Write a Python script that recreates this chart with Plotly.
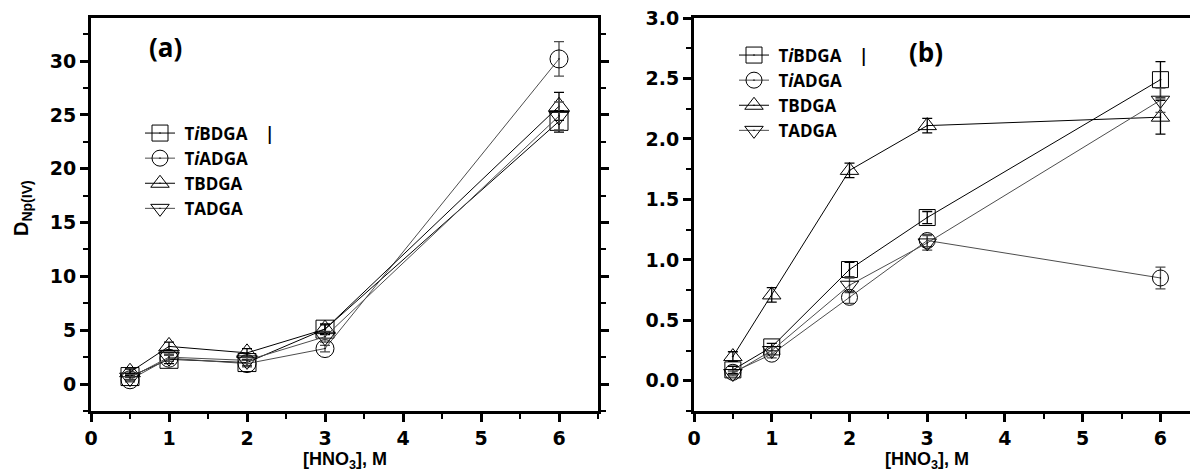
import plotly.graph_objects as go

hno3 = [0.5, 1, 2, 3, 6]
NB = "\u00a0"
series_names = [NB + "T<i>i</i>BDGA" + NB * 4 + "|", NB + "T<i>i</i>ADGA",
                NB + "TBDGA", NB + "TADGA"]

# Panel (a)
a_tibdga = [0.7, 2.3, 2.0, 5.1, 24.4]
a_tiadga = [0.4, 2.4, 1.9, 3.3, 30.2]
a_tbdga = [1.1, 3.5, 2.9, 5.1, 25.8]
a_tadga = [0.6, 2.5, 2.2, 4.4, 24.9]
a_err_tibdga = [0.3, 0.4, 0.3, 0.4, 1.0]
a_err_tiadga = [0.2, 0.3, 0.3, 0.3, 1.6]
a_err_tbdga = [0.3, 0.4, 0.4, 0.5, 1.3]
a_err_tadga = [0.3, 0.4, 0.3, 0.5, 1.3]

# Panel (b)
b_tibdga = [0.09, 0.28, 0.92, 1.35, 2.49]
b_tiadga = [0.07, 0.22, 0.69, 1.16, 0.85]
b_tbdga = [0.20, 0.71, 1.74, 2.11, 2.18]
b_tadga = [0.06, 0.25, 0.79, 1.14, 2.32]
b_err_tibdga = [0.03, 0.03, 0.06, 0.05, 0.15]
b_err_tiadga = [0.02, 0.03, 0.05, 0.05, 0.09]
b_err_tbdga = [0.04, 0.06, 0.06, 0.06, 0.14]
b_err_tadga = [0.02, 0.03, 0.06, 0.06, 0.10]

symbols = ["square-open-dot", "circle-open-dot", "triangle-up-open-dot", "triangle-down-open-dot"]
line_colors = ["#000000", "#4d4d4d", "#000000", "#4d4d4d"]

fig = go.Figure()

a_vals = [a_tibdga, a_tiadga, a_tbdga, a_tadga]
a_errs = [a_err_tibdga, a_err_tiadga, a_err_tbdga, a_err_tadga]
b_vals = [b_tibdga, b_tiadga, b_tbdga, b_tadga]
b_errs = [b_err_tibdga, b_err_tiadga, b_err_tbdga, b_err_tadga]

for i in range(4):
    fig.add_trace(go.Scatter(
        x=hno3, y=a_vals[i], name=series_names[i], mode="lines+markers",
        xaxis="x", yaxis="y", legend="legend",
        line=dict(color=line_colors[i], width=1),
        marker=dict(symbol=symbols[i], size=18, color="black", line=dict(width=1, color="black")),
        error_y=dict(type="data", array=a_errs[i], visible=True, color=line_colors[i], thickness=1.3, width=5),
    ))
for i in range(4):
    fig.add_trace(go.Scatter(
        x=hno3, y=b_vals[i], name=series_names[i], mode="lines+markers",
        xaxis="x2", yaxis="y2", legend="legend2",
        line=dict(color=line_colors[i], width=1),
        marker=dict(symbol=symbols[i], size=16, color="black", line=dict(width=1, color="black")),
        error_y=dict(type="data", array=b_errs[i], visible=True, color=line_colors[i], thickness=1.3, width=5),
    ))

tickfont = dict(family="DejaVu Sans", size=19, color="black", weight="bold")
titlefont = dict(family="Liberation Sans, Arial", size=18, color="black", weight="bold")
axis_common = dict(showgrid=False, zeroline=False, showline=True, linecolor="black", linewidth=3,
                   automargin=False,
                   ticks="outside", ticklen=8, tickwidth=2.5, tickcolor="black", tickfont=tickfont)

PLOT_H = 475 - 18 - 64


def py(pix):
    return 1 - (pix - 18) / PLOT_H


legend_font = dict(family="Open Sans", size=17, color="black", weight="bold")

fig.update_layout(
    template="none",
    width=1190, height=475,
    margin=dict(l=0, r=0, t=18, b=64),
    paper_bgcolor="white", plot_bgcolor="white",
    showlegend=True,
    xaxis=dict(domain=[91/1190, 598/1190], range=[0, 6.5], dtick=1, anchor="y", mirror=True,
               minor=dict(ticks="outside", ticklen=5, dtick=0.5, tickwidth=2, tickcolor="black"),
               **axis_common),
    yaxis=dict(domain=[0, 1], range=[-2.5, 34], dtick=5, anchor="x", mirror="ticks",
               minor=dict(ticks="outside", ticklen=5, dtick=2.5, tickwidth=2, tickcolor="black"),
               **axis_common),
    xaxis2=dict(domain=[694/1190, 1.0], range=[0, 6.38], dtick=1, anchor="y2", mirror=True,
                minor=dict(ticks="outside", ticklen=5, dtick=0.5, tickwidth=2, tickcolor="black"),
                **axis_common),
    yaxis2=dict(domain=[0, 1], range=[-0.25, 3.0], dtick=0.5, tickformat=".1f", anchor="x2", mirror=False,
                minor=dict(ticks="outside", ticklen=5, dtick=0.25, tickwidth=2, tickcolor="black"),
                **axis_common),
    legend=dict(x=140/1190, y=py(115.5), xanchor="left", yanchor="top", bgcolor="rgba(0,0,0,0)",
                font=legend_font, itemwidth=30, tracegroupgap=0),
    legend2=dict(x=734/1190, y=py(37.5), xanchor="left", yanchor="top", bgcolor="rgba(0,0,0,0)",
                 font=legend_font, itemwidth=30, tracegroupgap=0),
    annotations=[
        dict(text="(a)", x=165/1190, y=py(47), xref="paper", yref="paper", showarrow=False,
             xanchor="center", yanchor="middle",
             font=dict(family="Open Sans", size=26, color="black", weight="bold")),
        dict(text="(b)", x=926/1190, y=py(52), xref="paper", yref="paper", showarrow=False,
             xanchor="center", yanchor="middle",
             font=dict(family="Open Sans", size=26, color="black", weight="bold")),
        dict(text="[HNO<sub>3</sub>], M", x=0.5, xref="x domain", y=py(461), yref="paper",
             showarrow=False, xanchor="center", yanchor="middle", font=titlefont),
        dict(text="[HNO<sub>3</sub>], M", x=(927 - 694) / (1190 - 694), xref="x2 domain", y=py(461),
             yref="paper", showarrow=False, xanchor="center", yanchor="middle", font=titlefont),
        dict(text="D<sub>Np(IV)</sub>", x=22/1190, y=py(208), xref="paper", yref="paper",
             showarrow=False, xanchor="center", yanchor="middle", textangle=-90,
             font=dict(family="Liberation Sans, Arial", size=20, color="black", weight="bold")),
    ],
)

fig.write_html("out.html", config={"displayModeBar": False},
               post_script="document.body.style.margin='0';document.body.style.overflow='hidden';")
